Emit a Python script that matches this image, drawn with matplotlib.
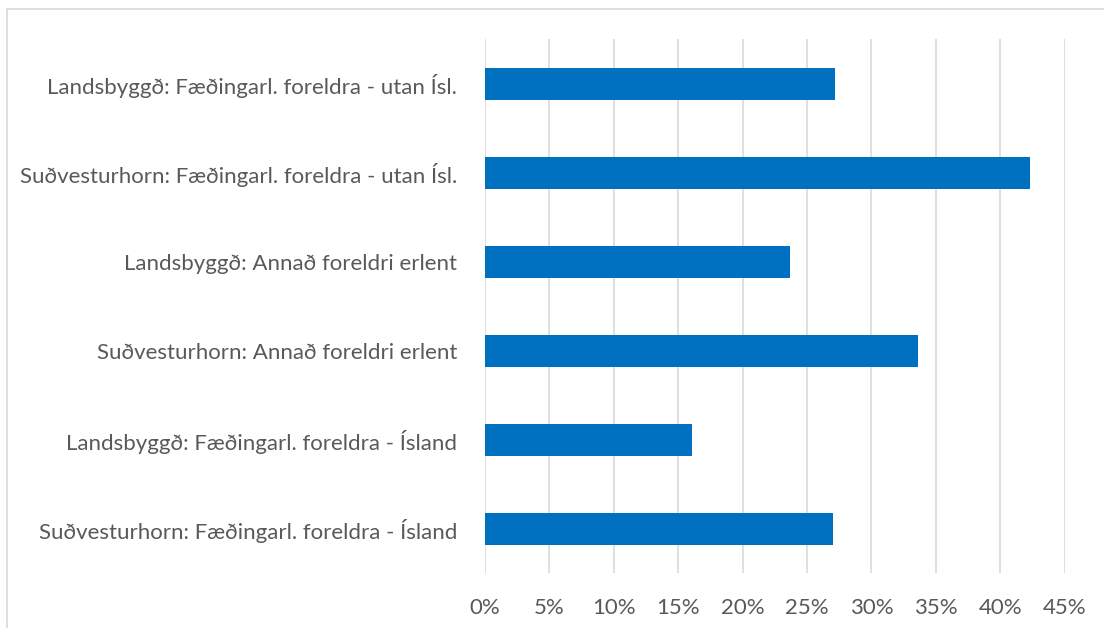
import matplotlib.pyplot as plt
from matplotlib.patches import Rectangle
from matplotlib.ticker import FuncFormatter, MultipleLocator

categories = [
    "Suðvesturhorn: Fæðingarl. foreldra - Ísland",
    "Landsbyggð: Fæðingarl. foreldra - Ísland",
    "Suðvesturhorn: Annað foreldri erlent",
    "Landsbyggð: Annað foreldri erlent",
    "Suðvesturhorn: Fæðingarl. foreldra - utan Ísl.",
    "Landsbyggð: Fæðingarl. foreldra - utan Ísl.",
]
values = [0.270, 0.161, 0.336, 0.237, 0.423, 0.272]

plt.rcParams['font.family'] = ['Lato', 'DejaVu Sans']

fig = plt.figure(figsize=(11.04, 6.28), dpi=100)
ax = fig.add_axes([0.4393, 0.0876, 0.9644 - 0.4393, 0.9374 - 0.0876])

ypos = range(len(categories))
ax.barh(ypos, values, height=0.36, color="#0070C0", zorder=3)
ax.set_yticks(list(ypos))
ax.set_yticklabels(categories)
ax.set_ylim(-0.5, len(categories) - 0.5)
ax.set_xlim(0, 0.45)
ax.xaxis.set_major_locator(MultipleLocator(0.05))
ax.xaxis.set_major_formatter(FuncFormatter(lambda v, p: f"{v*100:.0f}%"))

ax.grid(axis="x", color="#d9d9d9", linewidth=1.2, zorder=0)
for s in ax.spines.values():
    s.set_visible(False)
ax.tick_params(axis="both", length=0, labelsize=16, labelcolor="#595959")
ax.tick_params(axis="y", pad=20)
ax.tick_params(axis="x", pad=18)

fig.patches.append(Rectangle((7 / 1104, -0.01), 1.1, 1 - 9 / 628 + 0.01,
                             transform=fig.transFigure, fill=False,
                             edgecolor="#d9d9d9", linewidth=1.2))

fig.savefig("out.png", dpi=100)
